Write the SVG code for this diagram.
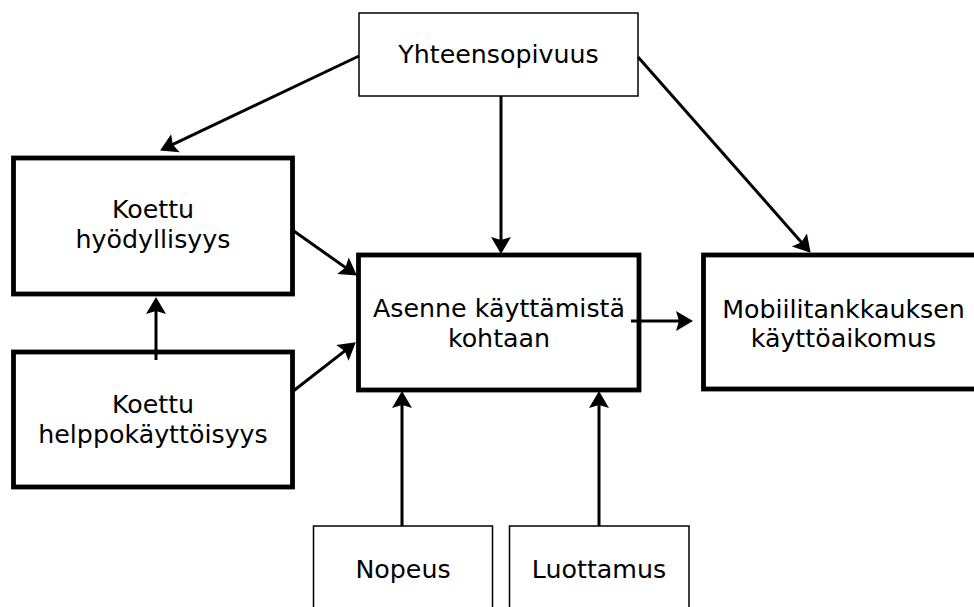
<svg xmlns="http://www.w3.org/2000/svg" width="974" height="607" viewBox="0 0 974 607">
<defs>
<marker id="ah" markerUnits="userSpaceOnUse" markerWidth="22" markerHeight="24" viewBox="0 -12 20 24" refX="8" refY="0" orient="auto">
<path d="M0,-10 L17,0 L0,10 L3,0 Z" fill="#000"/>
</marker>
</defs>
<style>
.thick{fill:#fff;stroke:#000;stroke-width:4.8}
.thin{fill:#fff;stroke:#000;stroke-width:1.5}
.t{font-family:"DejaVu Sans","Verdana",sans-serif;font-size:25.3px;fill:#000;text-anchor:middle}
.c{stroke:#000;stroke-width:3;fill:none;marker-end:url(#ah)}
</style>
<rect width="974" height="607" fill="#fff"/>
<g id="yhteensopivuus">
<rect class="thin" x="359" y="13" width="279" height="83"/>
<text class="t" x="498.5" y="63">Yhteensopivuus</text>
</g>
<g id="hyodyllisyys">
<rect class="thick" x="13.5" y="158" width="279" height="136"/>
<text class="t" x="153" y="218">Koettu</text>
<text class="t" x="153" y="248">hyödyllisyys</text>
</g>
<g id="helppokayttoisyys">
<rect class="thick" x="13.5" y="352" width="279" height="135"/>
<text class="t" x="153" y="413">Koettu</text>
<text class="t" x="153" y="443">helppokäyttöisyys</text>
</g>
<g id="asenne">
<rect class="thick" x="358.5" y="255" width="280.5" height="135"/>
<text class="t" x="499" y="317">Asenne käyttämistä</text>
<text class="t" x="499" y="347">kohtaan</text>
</g>
<g id="aikomus">
<rect class="thick" x="703.5" y="255" width="280" height="134"/>
<text class="t" x="843.5" y="318">Mobiilitankkauksen</text>
<text class="t" x="843.5" y="347">käyttöaikomus</text>
</g>
<g id="nopeus">
<rect class="thin" x="313.5" y="526" width="179" height="100"/>
<text class="t" x="403" y="578">Nopeus</text>
</g>
<g id="luottamus">
<rect class="thin" x="509.5" y="526" width="179.5" height="100"/>
<text class="t" x="599" y="578">Luottamus</text>
</g>
<g id="connectors">
<line class="c" x1="359" y1="56" x2="168.2" y2="146.6"/>
<line class="c" x1="501" y1="96" x2="501" y2="245"/>
<line class="c" x1="638" y1="57" x2="804.7" y2="246"/>
<line class="c" x1="291" y1="229" x2="349.5" y2="270.4"/>
<line class="c" x1="292" y1="392" x2="348.7" y2="347.9"/>
<line class="c" x1="156" y1="360" x2="156" y2="306"/>
<line class="c" x1="631" y1="321" x2="684" y2="321"/>
<line class="c" x1="402" y1="526" x2="402" y2="400"/>
<line class="c" x1="599" y1="526" x2="599" y2="400"/>
</g>
</svg>
